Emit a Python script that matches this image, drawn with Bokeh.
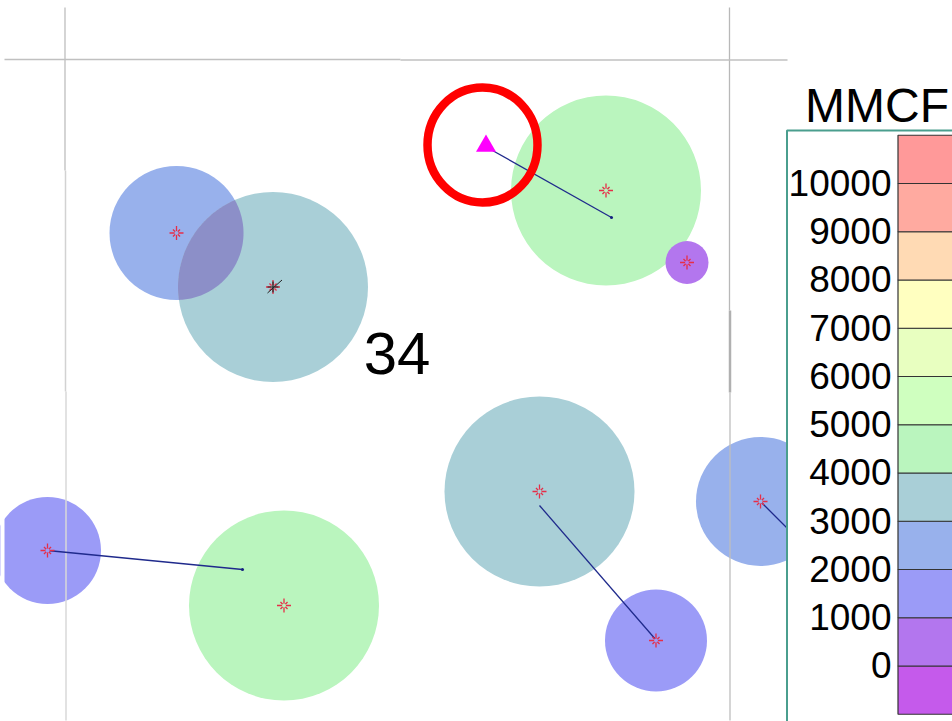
import numpy as np
from bokeh.plotting import figure
from bokeh.models import Range1d
from bokeh.embed import file_html
from bokeh.resources import INLINE
from bokeh.core.properties import value

# colour scale
band_bottoms = [-1000, 0, 1000, 2000, 3000, 4000, 5000, 6000, 7000, 8000, 9000, 10000]
band_colors = ["#C55AEB", "#B376EE", "#9B9BF7", "#98B1EC", "#A9CFD7", "#BAF5BE",
               "#CFFFBF", "#E8FFC0", "#FFFFC0", "#FFDAB4", "#FFAAA0", "#FF9999"]
tick_values = [0, 1000, 2000, 3000, 4000, 5000, 6000, 7000, 8000, 9000, 10000]
tick_labels = ["0", "1000", "2000", "3000", "4000", "5000", "6000", "7000", "8000", "9000", "10000"]
legend_title = "MMCF"
section_label = "34"

# wells (map coordinates, MMCF bubble)
well_x = [176, 272.5, 605.5, 686.5, 539, 760, 47, 283.5, 655.5]
well_y = [232.5, 286.5, 190, 262, 491, 501, 550, 605, 640]
well_r = [67, 95, 95, 21.5, 95, 64.5, 53.5, 95, 51]
well_band = [3, 4, 5, 1, 4, 3, 2, 5, 2]

# horizontal well laterals
lat_x0 = [492, 47, 539, 760]
lat_y0 = [150, 550, 505, 501]
lat_x1 = [611, 242, 656, 800]
lat_y1 = [217, 569, 640, 541]

# section grid lines
vgrid_x = [64.5, 65, 65.5, 729, 729.5, 729.5]
vgrid_y0 = [7, 170, 391, 7, 310, 392]
vgrid_y1 = [170, 391, 720, 310, 392, 720]
vgrid_w = [1.3, 1.5, 1.5, 1.3, 2.5, 1.3]
vgrid_c = ["#BEBEBE", "#D2D2D2", "#D8D8D8", "#B8B8B8", "#B0B0B0", "#BEBEBE"]
hgrid_x0 = [4, 400]
hgrid_x1 = [400, 787]
hgrid_y = [59, 59.5]

W, H = 952, 721
p = figure(width=W, height=H, output_backend="svg", toolbar_location=None,
           x_range=Range1d(0, W), y_range=Range1d(H, 0),
           x_axis_location=None, y_axis_location=None,
           min_border=0, outline_line_color=None,
           styles={"position": "absolute", "left": "0px", "top": "0px"})
p.grid.visible = False
p.background_fill_color = "white"
p.border_fill_color = "white"

# legend value range: 48.25 px per 1000 MMCF, zero at y = 665.5
px_per = 48.25 / 1000
p.extra_y_ranges["legend"] = Range1d(start=(665.5 - H) / px_per, end=665.5 / px_per)

well_colors = [band_colors[b] for b in well_band]

p.circle(well_x, well_y, radius=well_r, fill_color=well_colors, line_color=None)

# overlap of the two upper-left bubbles
x0, y0, r0 = well_x[0], well_y[0], well_r[0]
x1, y1, r1 = well_x[1], well_y[1], well_r[1]
d = np.hypot(x1 - x0, y1 - y0)
base = np.arctan2(y1 - y0, x1 - x0)
a0 = np.arccos((d**2 + r0**2 - r1**2) / (2 * d * r0))
a1 = np.arccos((d**2 + r1**2 - r0**2) / (2 * d * r1))
t0 = np.linspace(base - a0, base + a0, 80)
t1 = np.linspace(base + np.pi - a1, base + np.pi + a1, 80)
p.patch(np.r_[x0 + r0 * np.cos(t0), x1 + r1 * np.cos(t1)],
        np.r_[y0 + r0 * np.sin(t0), y1 + r1 * np.sin(t1)],
        fill_color="#8C8FC8", line_color=None)

# map crop on the left
p.quad(left=[0], right=[4], top=[0], bottom=[H], fill_color="white", line_color=None)

p.segment(vgrid_x, vgrid_y0, vgrid_x, vgrid_y1, line_color=vgrid_c, line_width=vgrid_w)
p.segment(hgrid_x0, hgrid_y, hgrid_x1, hgrid_y, line_color="#C0C0C0", line_width=1.3)

p.segment(lat_x0, lat_y0, lat_x1, lat_y1, line_color="#1F2A8C", line_width=1.3)
p.scatter(lat_x1, lat_y1, marker="circle", size=3, fill_color="#14207F", line_color=None)

# well symbols
p.scatter(well_x, well_y, marker="cross", size=14, fill_color=None, line_color="#E62E48", line_width=1.3)
p.scatter(well_x, well_y, marker="x", size=10, fill_color=None, line_color="#E62E48", line_width=1.3)
p.scatter(well_x, well_y, marker="circle", size=4, fill_color=well_colors, line_color=None)

# well under the teal bubble marked in black
p.scatter(well_x[1:2], well_y[1:2], marker="cross", size=11, fill_color=None, line_color="#222222", line_width=1.2)
p.segment([267], [292.5], [281.5], [279.5], line_color="#222222", line_width=1)

# highlighted well
p.ellipse([482], [144.5], width=[110], height=[115], fill_color=None, line_color="#FF0000", line_width=8.5)
p.scatter([485.5], [145.5], marker="triangle", size=20, fill_color="#FF00FF", line_color=None)

p.text([396.5], [352.5], text=[section_label], text_font=value("Liberation Sans"), text_font_size="60px",
       text_align="center", text_baseline="middle", text_color="black")

# legend panel
p.quad(left=[786.5], right=[W + 5], top=[130], bottom=[H + 5], fill_color="white",
       line_color="#4A9E8E", line_width=2)
p.quad(left=[897.5] * len(band_bottoms), right=[W + 5] * len(band_bottoms),
       bottom=band_bottoms, top=[b + 1000 for b in band_bottoms],
       fill_color=band_colors, line_color="#333333", line_width=1.2, y_range_name="legend")
p.text([891] * len(tick_values), [v + 15 for v in tick_values], text=tick_labels, y_range_name="legend",
       text_font=value("Liberation Sans"), text_font_size="37px",
       text_align="right", text_baseline="middle", text_color="black")
p.text([876.5], [104.5], text=[legend_title], text_font=value("Liberation Sans"), text_font_size="48px",
       text_align="center", text_baseline="middle", text_color="black")

open("out.html", "w").write(file_html(p, INLINE))
